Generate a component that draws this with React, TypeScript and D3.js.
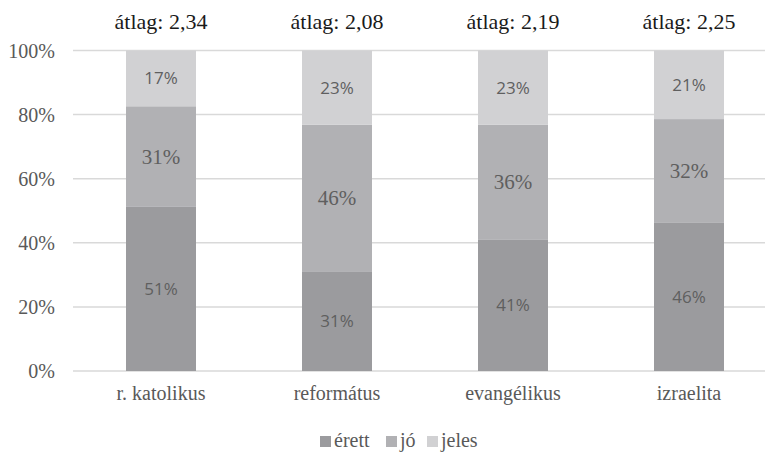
import React, { useEffect, useRef } from 'react';
import * as d3 from 'd3';

const categories = ['r. katolikus', 'református', 'evangélikus', 'izraelita'];
const averages = ['2,34', '2,08', '2,19', '2,25'];
const seriesNames = ['érett', 'jó', 'jeles'];
const erett = [51.2, 30.9, 40.9, 46.2];
const jo = [31.4, 45.9, 35.9, 32.4];
const jeles = [17.4, 23.2, 23.2, 21.4];
const yTicks = [0, 20, 40, 60, 80, 100];

const COLORS = ['#9b9b9e', '#b1b1b4', '#d1d1d3'];
const SERIF = 'Liberation Serif';
const SANS = 'Open Sans';

export default function App() {
  const ref = useRef<SVGSVGElement>(null);
  const width = 769;
  const height = 452;
  const MARGIN = { top: 50.5, bottom: 81, left: 73 };

  useEffect(() => {
    const svg = d3.select(ref.current);
    svg.selectAll('*').remove();

    const xScale = d3
      .scaleBand()
      .domain(categories)
      .range([MARGIN.left, MARGIN.left + 176 * categories.length]);
    const barWidth = 70;
    const yScale = d3
      .scaleLinear()
      .domain([0, 100])
      .range([height - MARGIN.bottom, MARGIN.top]);

    const rows = categories.map((c, i) => ({ cat: c, érett: erett[i], jó: jo[i], jeles: jeles[i] }));
    const stacked = d3.stack<any>().keys(seriesNames)(rows);

    // grid + y labels
    const grid = svg.append('g');
    yTicks.forEach((t) => {
      grid
        .append('line')
        .attr('x1', MARGIN.left)
        .attr('x2', width - 4)
        .attr('y1', yScale(t))
        .attr('y2', yScale(t))
        .attr('stroke', '#d9d9d9')
        .attr('stroke-width', 1.5);
      grid
        .append('text')
        .attr('x', 55)
        .attr('y', yScale(t) + 7)
        .attr('text-anchor', 'end')
        .style('font-family', SERIF)
        .style('font-size', '20px')
        .attr('fill', '#595959')
        .text(`${t}%`);
    });

    stacked.forEach((layer, si) => {
      const g = svg.append('g');
      layer.forEach((d, i) => {
        const cx = (xScale(categories[i]) ?? 0) + xScale.bandwidth() / 2;
        const y0 = yScale(d[0]);
        const y1 = yScale(d[1]);
        const serif = si === 1;
        g.append('rect')
          .attr('x', cx - barWidth / 2)
          .attr('y', y1)
          .attr('width', barWidth)
          .attr('height', y0 - y1)
          .attr('fill', COLORS[si]);
        g.append('text')
          .attr('x', cx)
          .attr('y', (y0 + y1) / 2 + (serif ? 7 : 6))
          .attr('text-anchor', 'middle')
          .style('font-family', serif ? SERIF : SANS)
          .style('font-size', serif ? '21px' : '17px')
          .attr('fill', '#5f5f5f')
          .text(`${Math.round(d[1] - d[0])}%`);
      });
    });

    categories.forEach((c, i) => {
      const cx = (xScale(c) ?? 0) + xScale.bandwidth() / 2;
      svg
        .append('text')
        .attr('x', cx)
        .attr('y', 400)
        .attr('text-anchor', 'middle')
        .style('font-family', SERIF)
        .style('font-size', '20px')
        .attr('fill', '#595959')
        .text(c);
      svg
        .append('text')
        .attr('x', cx)
        .attr('y', 29)
        .attr('text-anchor', 'middle')
        .style('font-family', SERIF)
        .style('font-size', '22px')
        .attr('fill', '#1a1a1a')
        .text(`átlag: ${averages[i]}`);
    });

    const legendX = [320, 386, 427];
    seriesNames.forEach((s, i) => {
      const g = svg.append('g').attr('transform', `translate(${legendX[i]},436)`);
      g.append('rect').attr('width', 11).attr('height', 11).attr('fill', COLORS[i]);
      g.append('text')
        .attr('x', 14)
        .attr('y', 11)
        .style('font-family', SERIF)
        .style('font-size', '20px')
        .attr('fill', '#595959')
        .text(s);
    });
  }, []);

  return (
    <div style={{ position: 'absolute', left: 0, top: 0 }}>
      <svg ref={ref} width={width} height={height} style={{ display: 'block' }} />
    </div>
  );
}
